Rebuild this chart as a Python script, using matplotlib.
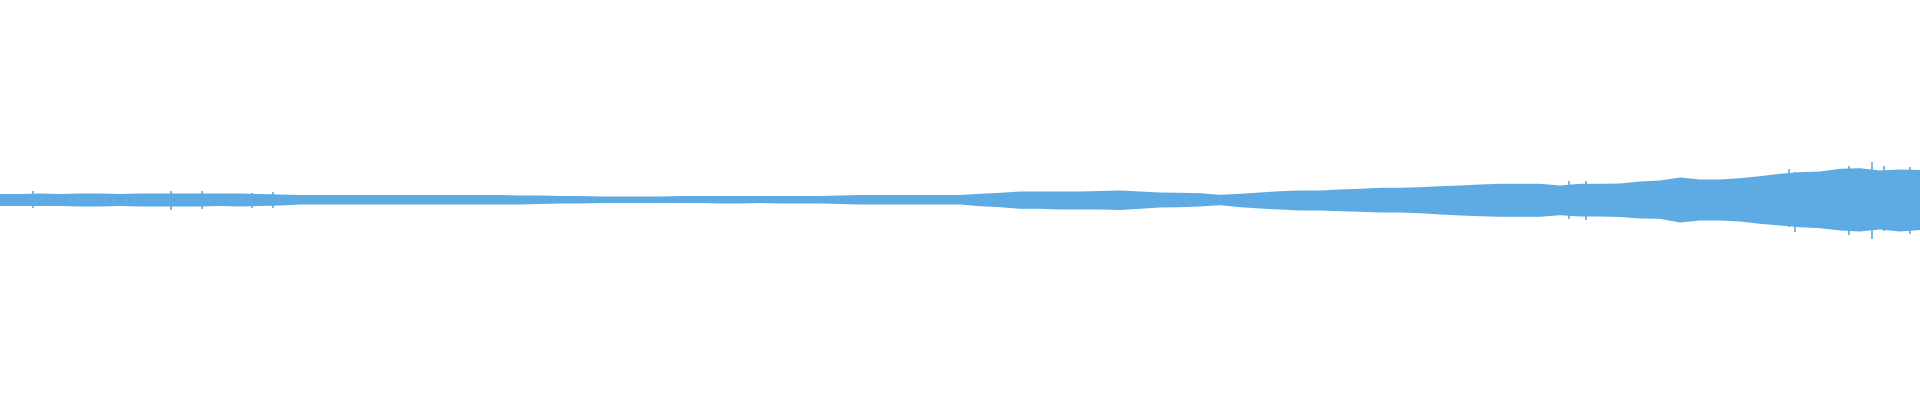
import numpy as np
import matplotlib
matplotlib.use("Agg")
import matplotlib.pyplot as plt

# waveform envelope, percent of full scale, read at even steps across the track
upper = [3.0, 3.0, 3.25, 3.0, 3.25, 3.25, 3.0, 3.25, 3.25, 3.25, 3.25, 3.25, 3.25, 3.0, 2.75, 2.5,
         2.5, 2.5, 2.5, 2.5, 2.5, 2.5, 2.5, 2.5, 2.5, 2.5, 2.25, 2.25, 2.0, 2.0, 1.75, 1.75,
         1.75, 1.75, 2.0, 2.0, 2.0, 2.0, 2.0, 2.0, 2.0, 2.0, 2.25, 2.5, 2.5, 2.5, 2.5, 2.5,
         2.5, 3.1, 3.6, 4.25, 4.25, 4.25, 4.25, 4.5, 4.75, 4.25, 3.75, 3.6, 3.4, 2.6, 3.1, 3.75,
         4.4, 4.75, 4.75, 5.25, 5.6, 6.1, 6.1, 6.4, 6.9, 7.25, 7.75, 8.1, 8.1, 8.1, 7.25, 8.1,
         8.1, 8.25, 9.25, 9.75, 11.25, 10.25, 10.25, 10.9, 11.9, 13.1, 13.9, 14.25, 15.6, 15.9, 14.75, 15.25,
         15.0]
lower = [3.0, 3.0, 3.0, 3.0, 3.25, 3.25, 3.0, 3.25, 3.25, 3.25, 3.25, 3.0, 3.25, 3.0, 2.75, 2.25,
         2.25, 2.25, 2.25, 2.25, 2.25, 2.25, 2.25, 2.25, 2.25, 2.25, 2.25, 2.0, 1.75, 1.75, 1.5, 1.5,
         1.5, 1.5, 1.5, 1.5, 1.75, 1.75, 1.5, 1.75, 1.75, 1.75, 2.0, 2.25, 2.25, 2.25, 2.25, 2.25,
         2.25, 3.1, 3.6, 4.4, 4.4, 4.75, 4.75, 4.75, 5.0, 4.4, 3.75, 3.6, 3.25, 2.6, 3.6, 4.25,
         4.75, 5.25, 5.25, 5.6, 5.9, 6.25, 6.25, 6.6, 7.25, 7.75, 8.1, 8.4, 8.4, 8.4, 7.6, 8.25,
         8.25, 8.5, 9.25, 9.4, 11.25, 10.25, 10.25, 10.75, 11.9, 12.75, 13.6, 14.1, 15.25, 15.75, 14.75, 15.75,
         15.0]

# isolated peaks sticking out of the envelope
peak_pos = [0.017, 0.089, 0.105, 0.131, 0.142, 0.817, 0.826, 0.932, 0.935, 0.963, 0.975, 0.981, 0.995]
peak_up = [4.4, 4.75, 4.5, 3.5, 4.25, 9.75, 9.5, 15.75, 14.0, 17.25, 19.25, 17.25, 16.5]
peak_down = [4.1, 4.9, 4.6, 4.1, 4.0, 9.4, 9.75, 13.5, 15.75, 17.25, 19.5, 15.5, 16.9]

color = "#5dabe2"

t = np.linspace(0, 1, len(upper))

fig = plt.figure(figsize=(19.2, 4), dpi=100)
ax = fig.add_axes([0, 0, 1, 1])
ax.fill_between(t, -np.array(lower), np.array(upper), color=color, linewidth=0)
ax.vlines(peak_pos, -np.array(peak_down), np.array(peak_up), color=color, linewidth=1.2)
ax.set_xlim(0, 1)
ax.set_ylim(-100, 100)
ax.axis("off")

fig.savefig("out.png", dpi=100, facecolor="white")
